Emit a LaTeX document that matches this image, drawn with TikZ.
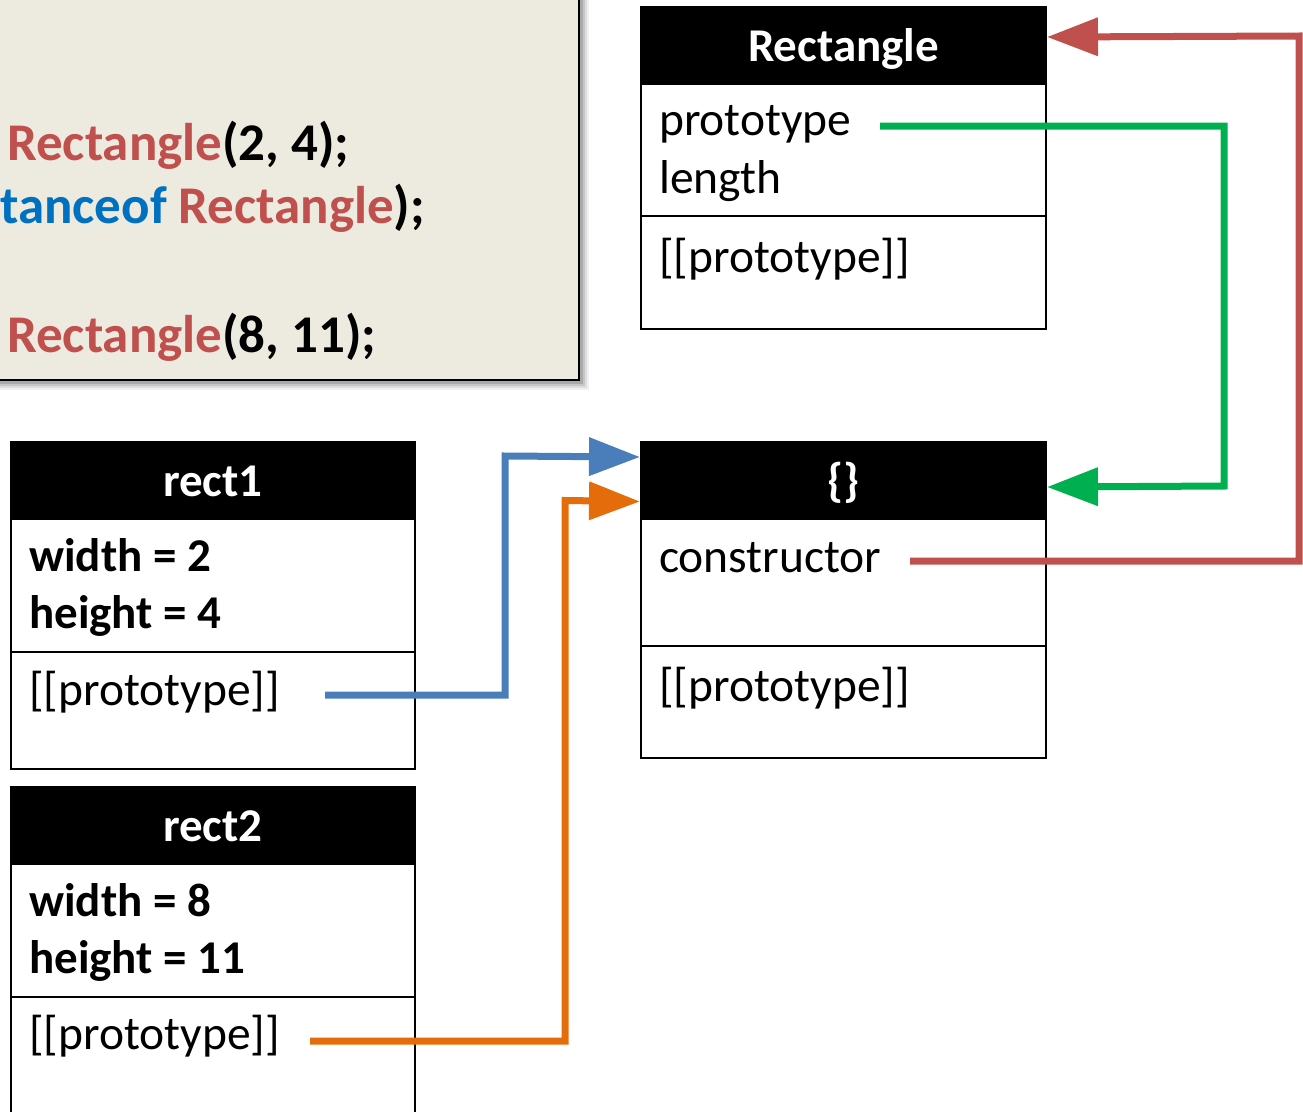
\documentclass[tikz,border=0pt]{standalone}
\usepackage{fontspec}
\setmainfont{Carlito}
\usetikzlibrary{arrows.meta}

\definecolor{codebg}{RGB}{237,235,224}
\definecolor{kwred}{RGB}{192,80,77}
\definecolor{kwblue}{RGB}{0,112,192}
\definecolor{linkblue}{RGB}{74,126,187}
\definecolor{linkorange}{RGB}{228,108,10}
\definecolor{linkgreen}{RGB}{0,176,80}
\definecolor{linkred}{RGB}{192,80,77}

\tikzset{
  objframe/.style={draw=black, line width=2pt, anchor=north west, inner sep=0pt},
  objhead/.style={fill=black, draw=black, line width=2pt, anchor=north west,
    inner sep=0pt, minimum height=77pt, text=white,
    font=\fontsize{47}{56}\selectfont\bfseries,
    text height=37.5pt, text depth=6.5pt},
  divider/.style={line width=2pt},
  field/.style={anchor=base west, inner sep=0pt, font=\fontsize{47.5}{56}\selectfont},
  boldfield/.style={anchor=base west, inner sep=0pt, font=\fontsize{47}{56}\selectfont\bfseries},
  codeline/.style={anchor=base west, inner sep=0pt, font=\fontsize{53}{62}\selectfont\bfseries},
  link/.style={line width=7pt, line join=miter, -{Triangle[length=51pt,width=37pt]}},
}

\begin{document}
\begin{tikzpicture}[x=1pt,y=-1pt]
\useasboundingbox (0,0) rectangle (1303,1111);
\clip (0,0) rectangle (1303,1111);

% code panel with a soft drop shadow
\foreach \o/\a in {9/0.06,7/0.08,5/0.10,3/0.14}
  \fill[black, opacity=\a] (-20+\o,-20+\o) rectangle (580+\o,381+\o);
\node[draw=black, line width=2.5pt, fill=codebg, inner sep=0pt, anchor=south east,
      minimum width=600pt, minimum height=401pt] (codebox) at (580,381) {};
\node[codeline] (code1) at (7,160) {\textcolor{kwred}{Rectangle}(2, 4);};
\node[codeline] (code2) at (0,223) {\textcolor{kwblue}{tanceof} \textcolor{kwred}{Rectangle});};
\node[codeline] (code3) at (7,352) {\textcolor{kwred}{Rectangle}(8, 11);};

% Rectangle function object
\node[objframe, minimum width=405pt, minimum height=322pt] (rectbox) at (640,6) {};
\node[objhead, minimum width=405pt] (recthead) at (640,6) {Rectangle};
\draw[divider] (640,216) -- (1045,216);
\node[field] (rectproto) at (659,135) {prototype};
\node[field] (rectlen) at (659,193) {length};
\node[field] (rectinner) at (659,272) {[[prototype]]};

% prototype object {}
\node[objframe, minimum width=405pt, minimum height=316pt] (objbox) at (640,441) {};
\node[objhead, minimum width=405pt] (objhead) at (640,441) {\{\}};
\draw[divider] (640,646) -- (1045,646);
\node[field] (objctor) at (659,572) {constructor};
\node[field] (objinner) at (659,701) {[[prototype]]};

% rect1
\node[objframe, minimum width=404pt, minimum height=327pt] (r1box) at (10,441) {};
\node[objhead, minimum width=404pt] (r1head) at (10,441) {rect1};
\draw[divider] (10,652) -- (414,652);
\node[boldfield] (r1w) at (29,571) {width = 2};
\node[boldfield] (r1h) at (29,628) {height = 4};
\node[field] (r1p) at (29,705) {[[prototype]]};

% rect2
\node[objframe, minimum width=404pt, minimum height=360pt] (r2box) at (10,786) {};
\node[objhead, minimum width=404pt] (r2head) at (10,786) {rect2};
\draw[divider] (10,997) -- (414,997);
\node[boldfield] (r2w) at (29,916) {width = 8};
\node[boldfield] (r2h) at (29,973) {height = 11};
\node[field] (r2p) at (29,1049) {[[prototype]]};

% link start points
\coordinate (bS) at (325,695);
\coordinate (oS) at (310,1041);
\coordinate (gS) at (880,126);
\coordinate (rS) at (910,561);

% links
\draw[link, linkblue]   (bS) -- (505,695)  -- (505,456)   -- ([yshift=23.5pt]objhead.west);
\draw[link, linkorange] (oS) -- (565,1041) -- (565,500.5) -- ([yshift=-21pt]objhead.west);
\draw[link, linkgreen]  (gS) -- (1224,126) -- (1224,486)  -- ([yshift=-6.5pt]objhead.east);
\draw[link, linkred]    (rS) -- (1299,561) -- (1299,36)   -- ([yshift=8.5pt]recthead.east);
\end{tikzpicture}
\end{document}
